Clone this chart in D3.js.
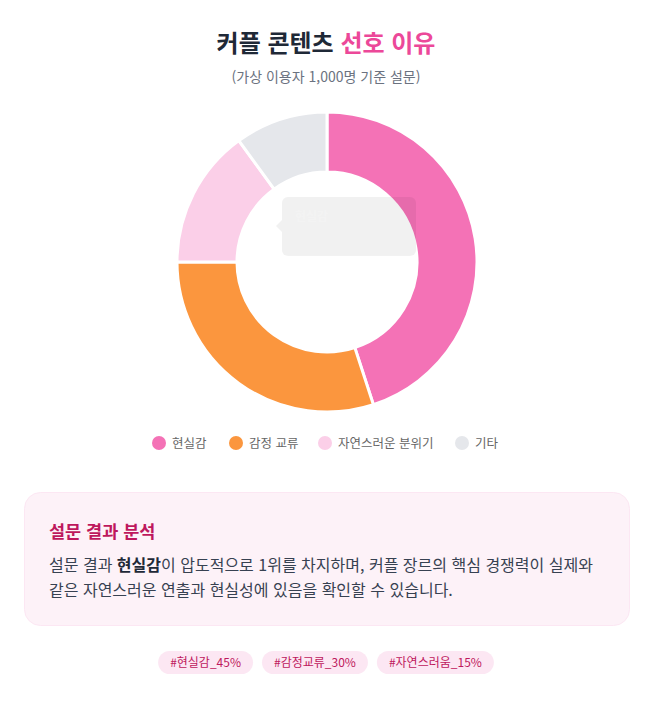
<!DOCTYPE html>
<html lang="ko">
<head>
<meta charset="utf-8">
<script src="https://cdn.jsdelivr.net/npm/d3@7"></script>
<style>
  html, body { margin: 0; padding: 0; background: #ffffff; }
  svg { display: block; font-family: "Noto Sans CJK KR", "Noto Sans", sans-serif; }
</style>
</head>
<body>
<div id="chart"></div>
<script>
////////////////// Data ////////////////////
var categories = ["현실감", "감정 교류", "자연스러운 분위기", "기타"];
var shares = [45, 30, 15, 10];
var colors = ["#f472b6", "#fb963e", "#fbcfe8", "#e5e7eb"];
var tags = ["#현실감_45%", "#감정교류_30%", "#자연스러움_15%"];

////////////////// SVG Container ////////////////////
var svgWidth = 652;
var svgHeight = 702;

var svg = d3.select("#chart").append("svg")
  .attr("width", svgWidth)
  .attr("height", svgHeight);

////////// Title //////////
var title = svg.append("text")
  .attr("x", svgWidth / 2)
  .attr("y", 52)
  .attr("text-anchor", "middle")
  .attr("font-size", 24)
  .attr("font-weight", 700);
title.append("tspan").attr("fill", "#1f2937").text("커플 콘텐츠 ");
title.append("tspan").attr("fill", "#ec4899").text("선호 이유");

svg.append("text")
  .attr("x", svgWidth / 2)
  .attr("y", 82)
  .attr("text-anchor", "middle")
  .attr("font-size", 14)
  .attr("fill", "#6b7280")
  .text("(가상 이용자 1,000명 기준 설문)");

////////// Donut //////////
var cx = 327, cy = 262;
var outerR = 150, innerR = 90;

var pie = d3.pie().sort(null).value(d => d);
var arc = d3.arc().innerRadius(innerR).outerRadius(outerR);

var donut = svg.append("g")
  .attr("transform", `translate(${cx}, ${cy})`);

donut.selectAll("path")
  .data(pie(shares))
  .enter()
  .append("path")
  .attr("d", arc)
  .attr("fill", (d, i) => colors[i])
  .attr("stroke", "#ffffff")
  .attr("stroke-width", 3);

////////// Fading tooltip //////////
var tip = svg.append("g").attr("opacity", 0.05);
tip.append("path")
  .attr("d", "M276,226 L282,220 L282,232 Z")
  .attr("fill", "#000");
tip.append("rect")
  .attr("x", 282).attr("y", 197)
  .attr("width", 134).attr("height", 59)
  .attr("rx", 6)
  .attr("fill", "#000");
svg.append("text")
  .attr("x", 295).attr("y", 221)
  .attr("font-size", 12).attr("font-weight", 700)
  .attr("fill", "#ffffff").attr("opacity", 0.2)
  .text("현실감");

////////// Legend //////////
var legendX = [159, 236, 325, 462];
var legend = svg.append("g");
var items = legend.selectAll("g")
  .data(categories)
  .enter()
  .append("g")
  .attr("transform", (d, i) => `translate(${legendX[i]}, 443)`);

items.append("circle")
  .attr("r", 7)
  .attr("fill", (d, i) => colors[i]);

items.append("text")
  .attr("x", 13)
  .attr("y", 4.5)
  .attr("font-size", 12.5)
  .attr("fill", "#666666")
  .text(d => d);

////////// Analysis box //////////
svg.append("rect")
  .attr("x", 24.5).attr("y", 492.5)
  .attr("width", 605).attr("height", 133)
  .attr("rx", 16)
  .attr("fill", "#fdf2f8")
  .attr("stroke", "#fce7f3");

svg.append("text")
  .attr("x", 49).attr("y", 538)
  .attr("font-size", 17.5).attr("font-weight", 700)
  .attr("fill", "#be185d")
  .text("설문 결과 분석");

var line1 = svg.append("text")
  .attr("x", 49).attr("y", 571)
  .attr("font-size", 16)
  .attr("fill", "#374151");
line1.append("tspan").text("설문 결과 ");
line1.append("tspan").attr("font-weight", 700).attr("fill", "#1f2937").text("현실감");
line1.append("tspan").text("이 압도적으로 1위를 차지하며, 커플 장르의 핵심 경쟁력이 실제와");

svg.append("text")
  .attr("x", 49).attr("y", 596)
  .attr("font-size", 16)
  .attr("fill", "#374151")
  .text("같은 자연스러운 연출과 현실성에 있음을 확인할 수 있습니다.");

////////// Tags //////////
var tagGroup = svg.append("g");
var pad = 12, gap = 9, tagH = 23;
var tagNodes = tagGroup.selectAll("g")
  .data(tags)
  .enter()
  .append("g");

tagNodes.append("rect")
  .attr("height", tagH)
  .attr("rx", tagH / 2)
  .attr("fill", "#fce7f3");

tagNodes.append("text")
  .attr("y", 16)
  .attr("font-size", 12)
  .attr("fill", "#be185d")
  .attr("text-anchor", "middle")
  .text(d => d);

var widths = [];
tagNodes.each(function () {
  widths.push(this.querySelector("text").getComputedTextLength() + pad * 2);
});
var total = d3.sum(widths) + gap * (widths.length - 1);
var startX = (svgWidth - total) / 2;
var offs = [];
widths.reduce(function (acc, w) { offs.push(acc); return acc + w + gap; }, startX);

tagNodes.attr("transform", (d, i) => `translate(${offs[i]}, 651)`);
tagNodes.select("rect").attr("width", (d, i) => widths[i]);
tagNodes.select("text").attr("x", (d, i) => widths[i] / 2);
</script>
</body>
</html>
